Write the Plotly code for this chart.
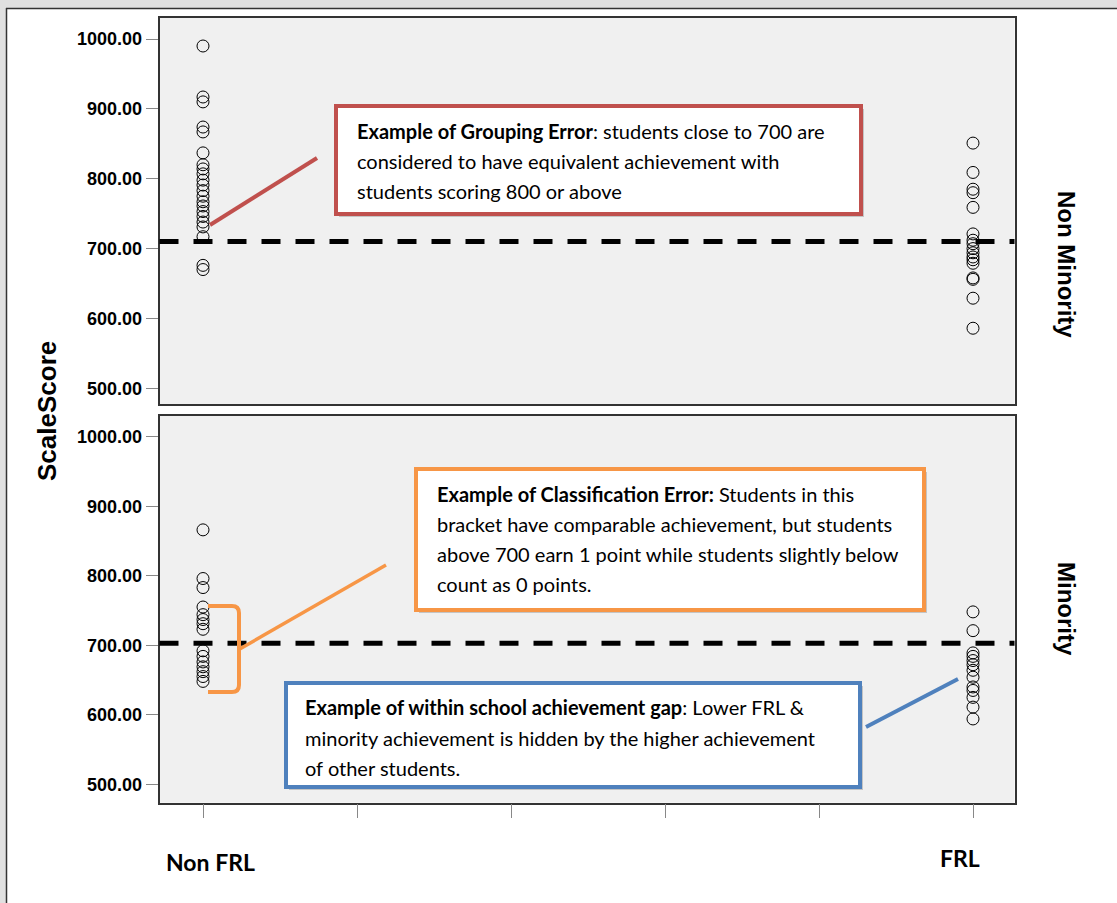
import plotly.graph_objects as go

W, H = 1117, 903

# ---------------- data ----------------
x_slots = ["Non FRL", " ", "  ", "   ", "    ", "FRL"]   # 6 tick slots on the x axis
frl_groups = ["Non FRL", "FRL"]
minority_groups = ["Non Minority", "Minority"]

nonmin_nonfrl = [990, 917, 910, 874, 867, 837, 820, 814, 807, 798, 791, 783, 775,
                 767, 761, 753, 746, 738, 731, 717, 676, 670]
nonmin_frl = [851, 809, 785, 780, 759, 721, 712, 707, 700, 694, 688, 684, 679,
              658, 656, 629, 586]
min_nonfrl = [866, 796, 783, 755, 744, 737, 731, 723, 692, 684, 676, 669, 662, 655, 648]
min_frl = [748, 721, 689, 684, 678, 672, 664, 654, 640, 635, 625, 611, 594]

y_ticks = [500, 600, 700, 800, 900, 1000]
y_ticktext = [f"{v:.2f}" for v in y_ticks]
cut_top = 710      # drawn cut line, top panel
cut_bottom = 703   # drawn cut line, bottom panel

# ---------------- helpers ----------------
def px(x):
    return x / W

def py(y):
    return 1 - y / H

panel_x = [px(159.5), px(1014.5)]
top_dom = [py(404.3), py(17.5)]
bot_dom = [py(802.7), py(416)]

fig = go.Figure()

marker = dict(symbol="circle-open", size=12, color="black", line=dict(width=1, color="black"))

fig.add_trace(go.Scatter(x=[frl_groups[0]] * len(nonmin_nonfrl), y=nonmin_nonfrl, mode="markers",
                         marker=marker, xaxis="x", yaxis="y", showlegend=False))
fig.add_trace(go.Scatter(x=[frl_groups[1]] * len(nonmin_frl), y=nonmin_frl, mode="markers",
                         marker=marker, xaxis="x", yaxis="y", showlegend=False))
fig.add_trace(go.Scatter(x=[frl_groups[0]] * len(min_nonfrl), y=min_nonfrl, mode="markers",
                         marker=marker, xaxis="x2", yaxis="y2", showlegend=False))
fig.add_trace(go.Scatter(x=[frl_groups[1]] * len(min_frl), y=min_frl, mode="markers",
                         marker=marker, xaxis="x2", yaxis="y2", showlegend=False))

axis_line = dict(showline=True, mirror=True, linecolor="#333333", linewidth=1.5,
                 showgrid=False, zeroline=False)
x_common = dict(type="category", categoryorder="array", categoryarray=x_slots,
                range=[-0.2825, 5.2695], domain=panel_x, showticklabels=False, **axis_line)
y_tickfont = dict(family="Liberation Sans, Arial", size=18, color="black", weight="bold")
y_common = dict(tickmode="array", tickvals=y_ticks, ticktext=y_ticktext, ticks="outside",
                ticklen=12, tickcolor="#888888", tickwidth=1, tickfont=y_tickfont, **axis_line)

fig.update_layout(
    width=W, height=H,
    margin=dict(l=0, r=0, t=0, b=0),
    paper_bgcolor="white",
    plot_bgcolor="#f0f0f0",
    xaxis=dict(anchor="y", ticks="", **x_common),
    yaxis=dict(anchor="x", domain=top_dom, range=[477.1, 1030.8], **y_common),
    xaxis2=dict(anchor="y2", ticks="outside", ticklen=14, tickcolor="#888888", tickwidth=1,
                **x_common),
    yaxis2=dict(anchor="x2", domain=bot_dom, range=[473.5, 1029.8], **y_common),
)

shapes = []
# outer slide frame
shapes.append(dict(type="rect", xref="paper", yref="paper", x0=0, x1=1, y0=py(8), y1=1,
                   fillcolor="#e0e0e0", line=dict(width=0), layer="above"))
shapes.append(dict(type="rect", xref="paper", yref="paper", x0=0, x1=px(6), y0=0, y1=1,
                   fillcolor="#e0e0e0", line=dict(width=0), layer="above"))
shapes.append(dict(type="line", xref="paper", yref="paper", x0=px(6), x1=1, y0=py(8.5), y1=py(8.5),
                   line=dict(color="#333333", width=1.5), layer="above"))
shapes.append(dict(type="line", xref="paper", yref="paper", x0=px(6.5), x1=px(6.5), y0=0, y1=py(8),
                   line=dict(color="#333333", width=1.5), layer="above"))

# dashed cut lines
for xr, yr, val in [("x domain", "y", cut_top), ("x2 domain", "y2", cut_bottom)]:
    shapes.append(dict(type="line", xref=xr, yref=yr, x0=0, x1=1, y0=val, y1=val,
                       line=dict(color="black", width=5, dash="19px,15px"), layer="above"))

def callout_box(x0, y0, x1, y1, color):
    shapes.append(dict(type="rect", xref="paper", yref="paper",
                       x0=px(x0 + 3), x1=px(x1 + 3), y0=py(y1 + 3), y1=py(y0 + 3),
                       fillcolor="rgba(0,0,0,0.18)", line=dict(width=0), layer="above"))
    shapes.append(dict(type="rect", xref="paper", yref="paper",
                       x0=px(x0), x1=px(x1), y0=py(y1), y1=py(y0),
                       fillcolor="white", line=dict(color=color, width=4), layer="above"))

def connector(x0, y0, x1, y1, color, width=4):
    shapes.append(dict(type="line", xref="paper", yref="paper",
                       x0=px(x0), y0=py(y0), x1=px(x1), y1=py(y1),
                       line=dict(color=color, width=width), layer="above"))

RED, ORANGE, BLUE = "#c0504d", "#f79646", "#4f81bd"

connector(210, 225, 317, 158, RED)
callout_box(336, 106, 861, 214, RED)
connector(238, 650, 386, 565, ORANGE, 3.5)
callout_box(416, 469, 924, 610, ORANGE)
connector(866, 727, 958, 679, BLUE)
callout_box(286, 683, 860, 787, BLUE)

# orange bracket
bpath = (f"M {px(208)},{py(606)} L {px(232)},{py(606)} "
         f"Q {px(239)},{py(606)} {px(239)},{py(613)} "
         f"L {px(239)},{py(685)} Q {px(239)},{py(692)} {px(232)},{py(692)} "
         f"L {px(208)},{py(692)}")
shapes.append(dict(type="path", xref="paper", yref="paper", path=bpath,
                   line=dict(color=ORANGE, width=4), layer="above"))

fig.update_layout(shapes=shapes)

ann = []
box_font = dict(family="Lato, Open Sans, sans-serif", size=20, color="black")

def text_lines(x, ys, lines):
    for y, t in zip(ys, lines):
        ann.append(dict(xref="paper", yref="paper", x=px(x), y=py(y), text=t,
                        xanchor="left", yanchor="middle", showarrow=False, font=box_font))

text_lines(355, [131, 161, 191], [
    "<b>Example of Grouping Error</b>: students close to 700 are",
    "considered to have equivalent achievement with",
    "students scoring 800 or above",
])
text_lines(435, [494, 524, 554, 584], [
    "<b>Example of Classification Error:</b> Students in this",
    "bracket have comparable achievement, but students",
    "above 700 earn 1 point while students slightly below",
    "count as 0 points.",
])
text_lines(303, [707, 738, 768], [
    "<b>Example of within school achievement gap</b>: Lower FRL &amp;",
    "minority achievement is hidden by the higher achievement",
    "of other students.",
])

# axis titles / panel labels
ann.append(dict(xref="paper", yref="paper", x=px(47), y=py(411), text="<b>ScaleScore</b>",
                textangle=-90, showarrow=False, xanchor="center", yanchor="middle",
                font=dict(family="Liberation Sans, Arial", size=26, color="black")))
for lab, yc in zip(minority_groups, [264, 609]):
    ann.append(dict(xref="paper", yref="paper", x=px(1067), y=py(yc), text=f"<b>{lab}</b>",
                    textangle=90, showarrow=False, xanchor="center", yanchor="middle",
                    font=dict(family="Liberation Sans, Arial", size=24, color="black")))
for lab, xc, yc in zip(frl_groups, [210, 960], [862, 858]):
    ann.append(dict(xref="paper", yref="paper", x=px(xc), y=py(yc), text=f"<b>{lab}</b>",
                    showarrow=False, xanchor="center", yanchor="middle",
                    font=dict(family="Lato, sans-serif", size=23, color="black")))

fig.update_layout(annotations=ann)

fig.write_html("out.html", config={"displayModeBar": False},
               post_script="document.body.style.margin='0';")
